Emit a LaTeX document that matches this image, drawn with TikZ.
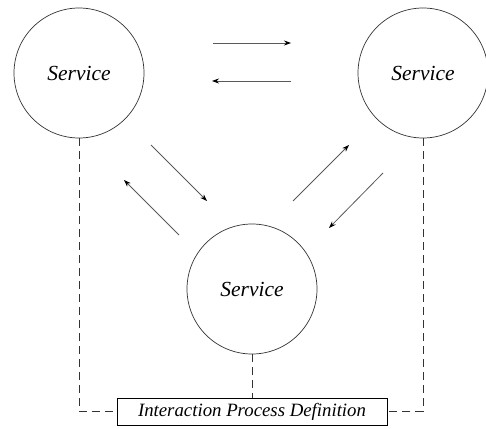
\documentclass[tikz,border=0pt]{standalone}
\usepackage{fontspec}
\setmainfont{Liberation Serif}
\usetikzlibrary{arrows.meta}
\begin{document}
\begin{tikzpicture}[x=1pt,y=-1pt,
  service/.style={circle,draw=black!80,line width=0.7pt,minimum size=130pt,inner sep=0pt,font=\itshape\fontsize{21.5}{24}\selectfont},
  defbox/.style={draw=black,line width=0.7pt,minimum width=270pt,minimum height=27pt,inner sep=0pt,font=\itshape\fontsize{18.8}{21}\selectfont},
  link/.style={dash pattern=on 8pt off 5pt,line width=0.8pt,draw=black!80},
  flow/.style={draw=black!65,line width=0.8pt,-{Stealth[length=7pt,width=5pt,black]}}]
\useasboundingbox (0,0) rectangle (486,428);
\node[service] (L) at (79,73) {Service};
\node[service] (R) at (423,73) {Service};
\node[service] (B) at (252,289) {Service};
\node[defbox] (D) at (252,411.5) {Interaction Process Definition};
% message flows between the services
\coordinate (a1) at (213,43);  \coordinate (a2) at (291,43);
\coordinate (b1) at (291,81);  \coordinate (b2) at (212,81);
\coordinate (c1) at (151,145); \coordinate (c2) at (207,201);
\coordinate (d1) at (179,235); \coordinate (d2) at (124,180);
\coordinate (e1) at (293,201); \coordinate (e2) at (349,145);
\coordinate (f1) at (383,173); \coordinate (f2) at (329,228);
\draw[flow] (a1) -- (a2);
\draw[flow] (b1) -- (b2);
\draw[flow] (c1) -- (c2);
\draw[flow] (d1) -- (d2);
\draw[flow] (e1) -- (e2);
\draw[flow] (f1) -- (f2);
% links to the process definition
\draw[link] (L.south) |- (D.west);
\draw[link] (R.south) |- (D.east);
\draw[link] (B.south) -- (D.north);
\end{tikzpicture}
\end{document}
